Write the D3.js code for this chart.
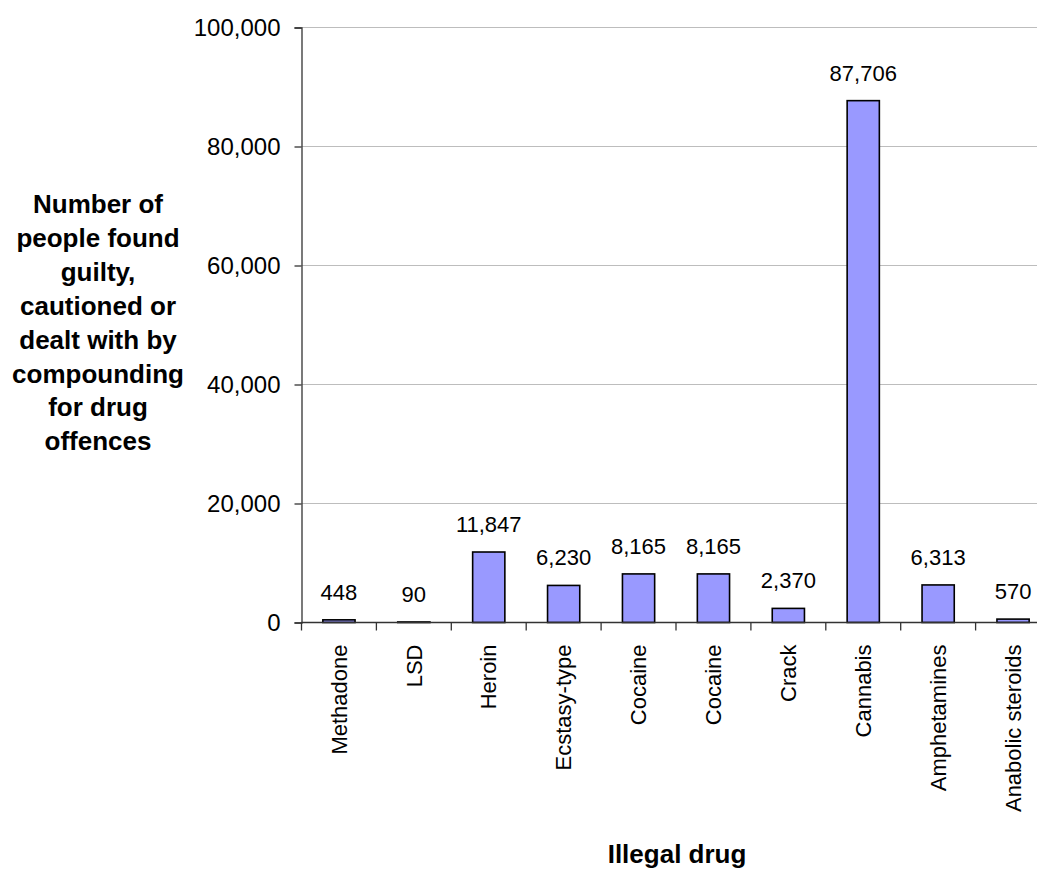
<!DOCTYPE html>
<html><head><meta charset="utf-8">
<script src="https://cdn.jsdelivr.net/npm/d3@7"></script>
<style>body{margin:0;background:#fff}svg{display:block}text{font-family:"Liberation Sans",Arial,sans-serif}</style>
</head><body><svg id="c" width="1037" height="871"></svg>
<script>
const categories = ["Methadone","LSD","Heroin","Ecstasy-type","Cocaine","Cocaine","Crack","Cannabis","Amphetamines","Anabolic steroids"];
const values = [448, 90, 11847, 6230, 8165, 8165, 2370, 87706, 6313, 570];
const yTicks = [0, 20000, 40000, 60000, 80000, 100000];
const yTitleLines = ["Number of","people found","guilty,","cautioned or","dealt with by","compounding","for drug","offences"];
const xTitle = "Illegal drug";

const svg = d3.select("#c");
const idx = categories.map((d,i)=>i);
const x0 = 301.5, x1 = 1050.5, yBase = 622.5, yTop = 27.5;
const xb = d3.scaleBand().domain(idx).range([x0,x1]).padding(0);
const xbar = d3.scaleBand().domain(idx).range([x0,x1]).paddingInner(0.57).paddingOuter(0.285);
const y = d3.scaleLinear().domain([0,100000]).range([yBase,yTop]);
const fmt = d3.format(",");

// gridlines
svg.append("g").selectAll("line").data(yTicks.filter(t=>t>0)).join("line")
  .attr("x1",x0).attr("x2",1037).attr("y1",d=>y(d)).attr("y2",d=>y(d))
  .attr("stroke","#bdbdbd").attr("stroke-width",1);

// y axis
const ya = svg.append("g").attr("transform",`translate(${x0},0)`)
  .call(d3.axisLeft(y).tickValues(yTicks).tickFormat(fmt).tickSize(7).tickPadding(14));
ya.select(".domain").attr("stroke","#333").attr("stroke-width",1.3);
ya.selectAll(".tick line").attr("stroke","#333").attr("stroke-width",1.3);
ya.selectAll(".tick text").attr("font-size",24).attr("fill","#000").attr("font-family","Liberation Sans, Arial, sans-serif");

// bars
svg.append("g").selectAll("rect").data(idx).join("rect")
  .attr("x",i=>xbar(i)).attr("width",xbar.bandwidth())
  .attr("y",i=>y(values[i])).attr("height",i=>yBase-y(values[i]))
  .attr("fill","#9999ff").attr("stroke","#000").attr("stroke-width",1.6);

// x axis
const xa = svg.append("g").attr("transform",`translate(0,${yBase})`);
xa.append("line").attr("x1",x0).attr("x2",1037).attr("y1",0).attr("y2",0).attr("stroke","#333").attr("stroke-width",1.3);
xa.selectAll("line.t").data(d3.range(categories.length+1)).join("line").attr("class","t")
  .attr("x1",i=>x0+i*xb.step()).attr("x2",i=>x0+i*xb.step()).attr("y1",0).attr("y2",8)
  .attr("stroke","#333").attr("stroke-width",1.3);
xa.selectAll("text").data(idx).join("text")
  .attr("transform",i=>`translate(${xb(i)+xb.bandwidth()/2},22) rotate(-90)`)
  .attr("text-anchor","end").attr("dy","0.35em").attr("font-size",22).text(i=>categories[i]);

// value labels
svg.append("g").selectAll("text").data(idx).join("text")
  .attr("x",i=>xbar(i)+xbar.bandwidth()/2).attr("y",i=>y(values[i])-20)
  .attr("text-anchor","middle").attr("font-size",22).text(i=>fmt(values[i]));

// y title
svg.append("text").attr("text-anchor","middle").attr("font-weight","bold").attr("font-size",26)
  .selectAll("tspan").data(yTitleLines).join("tspan")
  .attr("x",98).attr("y",(d,i)=>213+i*33.9).text(d=>d);

// x title
svg.append("text").attr("x",677).attr("y",863).attr("text-anchor","middle")
  .attr("font-weight","bold").attr("font-size",26).text(xTitle);
</script></body></html>
